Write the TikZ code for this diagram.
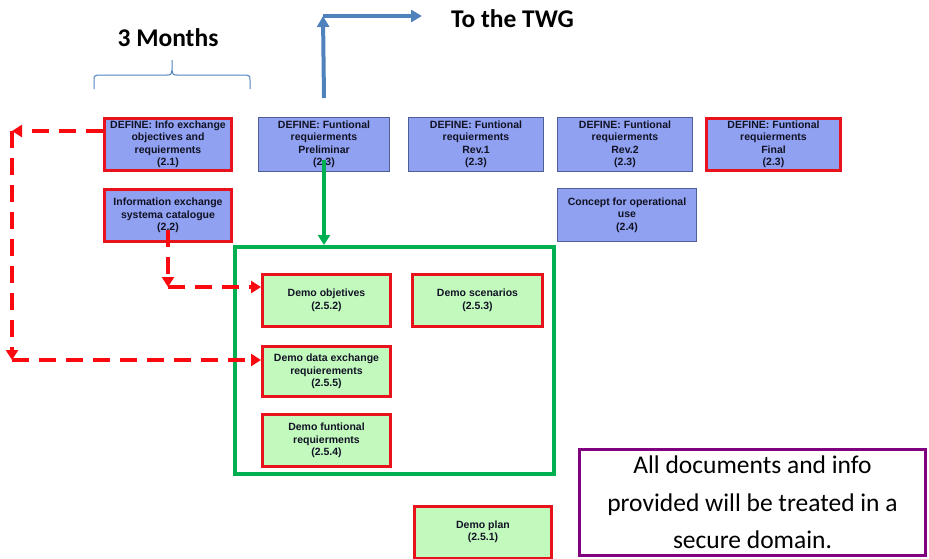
\documentclass[tikz,border=0pt]{standalone}
\usepackage{fontspec}
\setmainfont{Liberation Sans}
\newfontfamily\calfont{Carlito}
\usetikzlibrary{arrows.meta,calc}
\definecolor{blueF}{RGB}{143,161,240}
\definecolor{blueB}{RGB}{80,95,150}
\definecolor{redB}{RGB}{232,18,28}
\definecolor{redD}{RGB}{250,10,15}
\definecolor{greenF}{RGB}{194,250,190}
\definecolor{greenB}{RGB}{0,176,80}
\definecolor{purpB}{RGB}{128,0,128}
\definecolor{arrB}{RGB}{79,129,189}
\definecolor{txt}{RGB}{18,18,36}
\begin{document}
\begin{tikzpicture}[x=1pt,y=-1pt,
  boxtext/.style={align=center, inner sep=0pt, text=txt, font=\bfseries\fontsize{10.5}{12.5}\selectfont},
  bbox/.style={boxtext, draw=blueB, line width=1pt, fill=blueF},
  rbox/.style={boxtext, draw=redB, line width=3pt, fill=blueF},
  gbox/.style={boxtext, draw=redB, line width=3pt, fill=greenF},
  reddash/.style={draw=redD, line width=4pt, dash pattern=on 17pt off 10pt, -{Triangle[length=10pt,width=12pt]}},
  bluearrow/.style={draw=arrB, line width=4pt, -{Triangle[length=11pt,width=12pt]}},
  greenarrow/.style={draw=greenB, line width=3.5pt, -{Triangle[length=10pt,width=12pt]}},
  title/.style={font=\calfont\bfseries\fontsize{25.5}{30}\selectfont, inner sep=0pt, anchor=base}
]
\useasboundingbox (0,0) rectangle (929,558);

% titles
\node[title] (months) at (168,46) {3 Months};
\node[title] (twg) at (512.5,27) {To the TWG};

% brace
\draw[draw=arrB, line width=1pt] (94,89) -- (94,80) .. controls (94,76) .. (98,75) -- (167,75) .. controls (171,75) .. (172,70) -- (172,60) -- (172,70) .. controls (173,75) .. (177,75) -- (246,75) .. controls (250,76) .. (250,80) -- (250,89);

% top row
\node[rbox, minimum width=127pt, minimum height=52pt] (b21) at (168,144.5) {DEFINE: Info exchange\\objectives and\\requierments\\(2.1)};
\node[rbox, minimum width=127pt, minimum height=52pt] (b22) at (168,215.5) {Information exchange\\systema catalogue\\(2.2)};
\node[bbox, minimum width=131pt, minimum height=54pt] (b23p) at (324,144.5) {DEFINE: Funtional\\requierments\\Preliminar\\(2.3)};
\node[bbox, minimum width=135pt, minimum height=54pt] (b23r1) at (476,144.5) {DEFINE: Funtional\\requierments\\Rev.1\\(2.3)};
\node[bbox, minimum width=135pt, minimum height=54pt] (b23r2) at (625,144.5) {DEFINE: Funtional\\requierments\\Rev.2\\(2.3)};
\node[rbox, minimum width=134pt, minimum height=52pt] (b23f) at (773.5,144.5) {DEFINE: Funtional\\requierments\\Final\\(2.3)};
\node[bbox, minimum width=139pt, minimum height=53pt] (b24) at (627,215) {Concept for operational\\use\\(2.4)};

% green container
\node[draw=greenB, line width=4pt, minimum width=319pt, minimum height=227pt, inner sep=0pt] (green) at (394.5,360.5) {};
\node[gbox, minimum width=128pt, minimum height=52pt] (d252) at (326.5,300.5) {Demo objetives\\(2.5.2)};
\node[gbox, minimum width=130pt, minimum height=52pt] (d253) at (477.5,300.5) {Demo scenarios\\(2.5.3)};
\node[gbox, minimum width=128pt, minimum height=50pt] (d255) at (326.5,371.5) {Demo data exchange\\requierements\\(2.5.5)};
\node[gbox, minimum width=128pt, minimum height=52pt] (d254) at (326.5,440.5) {Demo funtional\\requierments\\(2.5.4)};
\node[gbox, minimum width=137pt, minimum height=52pt] (d251) at (483,532) {Demo plan\\(2.5.1)};

% purple note
\node[draw=purpB, line width=3pt, minimum width=346pt, minimum height=106pt, inner sep=0pt, align=center,
  font=\calfont\fontsize{25.5}{37.5}\selectfont] (note) at (752.5,502.5) {All documents and info\\provided will be treated in a\\secure domain.};

% blue arrow to TWG
\coordinate (twgc) at (323,16);
\coordinate (twge) at (422,16);
\draw[bluearrow] ([yshift=19pt]b23p.north) -- (twgc);
\draw[bluearrow] (twgc) -- (twge);

% green arrow
\draw[greenarrow] ([yshift=12pt]b23p.south) -- (b23p.south |- green.north);

% red dashed connectors
\coordinate (ca) at (12,131);
\coordinate (cb) at (12,360);
\coordinate (cc) at (168,287);
\draw[reddash] ([yshift=13.5pt]b21.west) -- (ca);
\draw[reddash] (ca) -- (cb);
\draw[reddash] (cb) -- (cb -| d255.west);
\draw[reddash] ([yshift=13pt]b22.south) -- (cc);
\draw[reddash] (cc) -- (cc -| d252.west);
\end{tikzpicture}
\end{document}
